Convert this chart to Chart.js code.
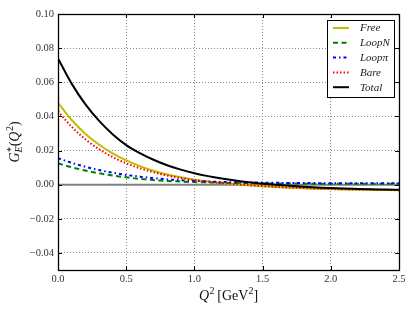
<!DOCTYPE html>
<html><head><meta charset="utf-8">
<script src="https://cdn.jsdelivr.net/npm/chart.js@4"></script>
<style>html,body{margin:0;padding:0;background:#fff}</style>
</head><body>
<canvas id="c" width="415" height="312"></canvas>
<script>
// ---- data ----
const q2 = [0.0,0.1,0.2,0.3,0.4,0.5,0.6,0.7,0.8,0.9,1.0,1.1,1.2,1.3,1.4,1.5,1.6,1.7,1.8,1.9,2.0,2.1,2.2,2.3,2.4,2.5];
const free   = [0.0480,0.0379,0.0299,0.0235,0.0183,0.0142,0.0109,0.0082,0.0060,0.0043,0.0029,0.0018,0.0009,0.0002,-0.0004,-0.0009,-0.0014,-0.0018,-0.0021,-0.0024,-0.0026,-0.0028,-0.0029,-0.0030,-0.0031,-0.0032];
const loopN  = [0.0125,0.0102,0.0083,0.0067,0.0054,0.0043,0.0034,0.0027,0.0022,0.0018,0.0015,0.0013,0.0011,0.0010,0.0009,0.0008,0.0007,0.0007,0.0006,0.0006,0.0006,0.0005,0.0005,0.0005,0.0005,0.0005];
const loopPi = [0.0155,0.0128,0.0105,0.0086,0.0070,0.0057,0.0047,0.0038,0.0031,0.0026,0.0022,0.0019,0.0016,0.0014,0.0013,0.0012,0.0011,0.0010,0.0010,0.0009,0.0009,0.0009,0.0009,0.0008,0.0008,0.0008];
const bare   = [0.0430,0.0339,0.0266,0.0208,0.0162,0.0125,0.0096,0.0073,0.0054,0.0039,0.0027,0.0017,0.0009,0.0003,-0.0003,-0.0008,-0.0013,-0.0017,-0.0020,-0.0023,-0.0025,-0.0027,-0.0029,-0.0030,-0.0031,-0.0032];
const total  = [0.0740,0.0592,0.0472,0.0375,0.0296,0.0232,0.0185,0.0146,0.0114,0.0088,0.0067,0.0050,0.0036,0.0024,0.0014,0.0006,-0.0001,-0.0007,-0.0012,-0.0016,-0.0020,-0.0023,-0.0025,-0.0027,-0.0029,-0.0030];
const xTicks = [0.0,0.5,1.0,1.5,2.0,2.5];
const yTicks = [-0.04,-0.02,0.00,0.02,0.04,0.06,0.08,0.10];
const seriesLabels = ['Free','LoopN','Loopπ','Bare','Total'];

// ---- styles ----
const SERIF = '"Liberation Serif","Times New Roman",serif';
const styles = [
  {color:'#bfbf00', dash:[], order:5},
  {color:'#008000', dash:[5,3.5], order:4},
  {color:'#0000ff', dash:[3,3,1.5,3], order:3},
  {color:'#ff0000', dash:[1.5,2], order:2},
  {color:'#000000', dash:[], order:1}
];
const seriesValues = [free, loopN, loopPi, bare, total];

const datasets = seriesValues.map((vals, i) => ({
  label: seriesLabels[i],
  data: q2.map((x, k) => ({x: x, y: vals[k]})),
  borderColor: styles[i].color,
  borderDash: styles[i].dash,
  borderWidth: 2,
  pointRadius: 0,
  fill: false,
  cubicInterpolationMode: 'monotone',
  order: styles[i].order
}));

function drawRuns(ctx, runs, cx, baseY) {
  let w = 0;
  const widths = runs.map(r => {
    if (r.stack) {
      ctx.font = r.stack[0].font; const a = ctx.measureText(r.stack[0].t).width;
      ctx.font = r.stack[1].font; const b = ctx.measureText(r.stack[1].t).width;
      return Math.max(a, b);
    }
    ctx.font = r.font; return ctx.measureText(r.t).width + (r.pad || 0);
  });
  widths.forEach(v => w += v);
  let x = cx - w / 2;
  ctx.textAlign = 'left';
  ctx.textBaseline = 'alphabetic';
  runs.forEach((r, i) => {
    if (r.stack) {
      r.stack.forEach(s => { ctx.font = s.font; ctx.fillText(s.t, x + (s.dx || 0), baseY + s.dy); });
    } else {
      ctx.font = r.font; ctx.fillText(r.t, x, baseY + (r.dy || 0));
    }
    x += widths[i];
  });
}

const decor = {
  id: 'decor',
  beforeDatasetsDraw(chart) {
    const {ctx, chartArea: a, scales: {y}} = chart;
    const y0 = y.getPixelForValue(0);
    ctx.save();
    ctx.strokeStyle = '#808080';
    ctx.lineWidth = 2;
    ctx.beginPath(); ctx.moveTo(a.left, y0); ctx.lineTo(a.right, y0); ctx.stroke();
    ctx.restore();
  },
  afterDatasetsDraw(chart) {
    const {ctx, chartArea: a, scales: {x, y}} = chart;
    ctx.save();
    ctx.strokeStyle = '#000';
    ctx.lineWidth = 1;
    ctx.beginPath();
    xTicks.forEach(v => {
      const px = Math.round(x.getPixelForValue(v)) + 0.5;
      ctx.moveTo(px, a.bottom); ctx.lineTo(px, a.bottom - 4);
      ctx.moveTo(px, a.top); ctx.lineTo(px, a.top + 4);
    });
    yTicks.forEach(v => {
      const py = Math.round(y.getPixelForValue(v)) + 0.5;
      ctx.moveTo(a.left, py); ctx.lineTo(a.left + 4, py);
      ctx.moveTo(a.right, py); ctx.lineTo(a.right - 4, py);
    });
    ctx.stroke();
    ctx.lineWidth = 1.3;
    ctx.strokeRect(Math.round(a.left) + 0.5, Math.round(a.top) + 0.5, Math.round(a.right - a.left), Math.round(a.bottom - a.top));
    ctx.restore();
  },
  afterDraw(chart) {
    const {ctx, chartArea: a} = chart;
    ctx.save();
    ctx.fillStyle = '#111';
    const big = '14px ' + SERIF, bigI = 'italic 14px ' + SERIF, sm = '10px ' + SERIF, smI = 'italic 10px ' + SERIF;
    drawRuns(ctx, [
      {t:'Q', font:bigI, pad:0.5},
      {t:'2', font:sm, dy:-6},
      {t:'\u2009[GeV', font:big},
      {t:'2', font:sm, dy:-6},
      {t:']', font:big}
    ], (a.left + a.right) / 2, 300);
    ctx.translate(19, (a.top + a.bottom) / 2);
    ctx.rotate(-Math.PI / 2);
    drawRuns(ctx, [
      {t:'G', font:bigI},
      {stack:[{t:'*', font:sm, dy:-5, dx:0.5}, {t:'E', font:smI, dy:3}]},
      {t:'(', font:big},
      {t:'Q', font:bigI, pad:0.5},
      {t:'2', font:sm, dy:-6},
      {t:')', font:big}
    ], 0, 0);
    ctx.restore();

    // legend
    ctx.save();
    const bx = 327, by = 20, bw = 67, bh = 77;
    ctx.fillStyle = '#fff';
    ctx.fillRect(bx, by, bw, bh);
    ctx.strokeStyle = '#000';
    ctx.lineWidth = 1;
    ctx.strokeRect(bx + 0.5, by + 0.5, bw, bh);
    seriesLabels.forEach((lab, i) => {
      const ry = 28 + i * 14.8;
      ctx.strokeStyle = styles[i].color;
      ctx.lineWidth = 2;
      ctx.setLineDash(styles[i].dash);
      ctx.beginPath(); ctx.moveTo(333, ry); ctx.lineTo(349, ry); ctx.stroke();
      ctx.setLineDash([]);
      ctx.fillStyle = '#222';
      ctx.font = 'italic 11px ' + SERIF;
      ctx.textAlign = 'left';
      ctx.textBaseline = 'middle';
      ctx.fillText(lab, 360, ry + 0.5);
    });
    ctx.restore();
  }
};

const fmtY = v => (v < 0 ? '\u2212' : '') + Math.abs(v).toFixed(2);
const fmtX = v => v.toFixed(1);

new Chart(document.getElementById('c'), {
  type: 'line',
  data: { datasets },
  options: {
    responsive: false,
    animation: false,
    events: [],
    layout: { padding: { left: 0, right: 16, top: 14, bottom: 0 } },
    plugins: { legend: { display: false }, tooltip: { enabled: false } },
    scales: {
      x: {
        type: 'linear', min: 0, max: 2.5,
        afterBuildTicks: s => { s.ticks = xTicks.map(v => ({value: v})); },
        afterFit: s => { s.height = 42; },
        ticks: { callback: v => fmtX(v), color: '#333', padding: 3, maxRotation: 0, autoSkip: false,
                 font: { family: SERIF, size: 10.5 } },
        grid: { color: '#8a8a8a', lineWidth: 1, drawTicks: false },
        border: { display: false, dash: [1, 2] }
      },
      y: {
        type: 'linear', min: -0.05, max: 0.10,
        afterBuildTicks: s => { s.ticks = yTicks.map(v => ({value: v})); },
        afterFit: s => { s.width = 58; },
        ticks: { callback: v => fmtY(v), color: '#333', padding: 4, autoSkip: false,
                 font: { family: SERIF, size: 10.5 } },
        grid: { color: ctx => (ctx.tick && Math.abs(ctx.tick.value) < 1e-9) ? 'rgba(0,0,0,0)' : '#8a8a8a', lineWidth: 1, drawTicks: false },
        border: { display: false, dash: [1, 2] }
      }
    }
  },
  plugins: [decor]
});
</script>
</body></html>
